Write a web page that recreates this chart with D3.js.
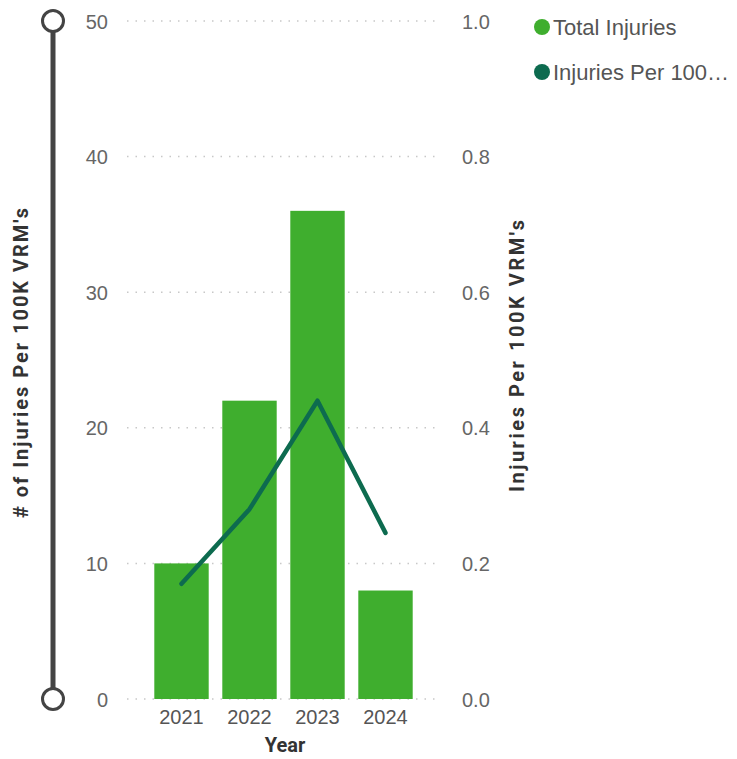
<!DOCTYPE html>
<html>
<head>
<meta charset="utf-8">
<script src="https://cdn.jsdelivr.net/npm/d3@7"></script>
<style>
  html, body { margin: 0; padding: 0; background: #fff; }
  svg { display: block; }
</style>
</head>
<body>
<svg id="chart" width="737" height="759"></svg>
<script>
// Yearly injury data
const years = ["2021", "2022", "2023", "2024"];
const totalInjuries = [10, 22, 36, 8];
const injuriesPer100k = [0.17, 0.28, 0.44, 0.245];
const leftTicks = [0, 10, 20, 30, 40, 50];
const rightTicks = [0, 0.2, 0.4, 0.6, 0.8, 1.0];
const legendLabels = ["Total Injuries", "Injuries Per 100\u2026"];

const barColor = "#3fae2e";
const lineColor = "#0d6b4f";
const tickColor = "#666666";
const tickFont = "Liberation Sans, Arial, sans-serif";
const titleFont = "Roboto, sans-serif";

const svg = d3.select("#chart");

const plotTop = 21, plotBottom = 699;
const gridLeft = 127, gridRight = 440;

const x = d3.scaleBand().domain(years).range([147.5, 419.5]).paddingInner(0.2).paddingOuter(0.1);
const yLeft = d3.scaleLinear().domain([0, 50]).range([plotBottom, plotTop]);
const yRight = d3.scaleLinear().domain([0, 1]).range([plotBottom, plotTop]);

// dotted gridlines
svg.append("g").selectAll("line").data(leftTicks).join("line")
  .attr("x1", gridLeft).attr("x2", gridRight)
  .attr("y1", d => yLeft(d)).attr("y2", d => yLeft(d))
  .attr("stroke", "#c8c8c8").attr("stroke-width", 1.5)
  .attr("stroke-dasharray", "1.5,7");

// left axis
const leftAxis = svg.append("g").attr("transform", `translate(108,0)`)
  .call(d3.axisLeft(yLeft).tickValues(leftTicks).tickSize(0).tickPadding(0));
leftAxis.select(".domain").remove();
leftAxis.selectAll("text").attr("fill", tickColor)
  .style("font-family", tickFont).style("font-size", "20px").attr("dy", "0.35em");

// right axis
const rightAxis = svg.append("g").attr("transform", `translate(462,0)`)
  .call(d3.axisRight(yRight).tickValues(rightTicks).tickSize(0).tickPadding(0).tickFormat(d3.format(".1f")));
rightAxis.select(".domain").remove();
rightAxis.selectAll("text").attr("fill", tickColor)
  .style("font-family", tickFont).style("font-size", "20px").attr("dy", "0.35em");

// bars
svg.append("g").selectAll("rect").data(years).join("rect")
  .attr("x", d => x(d)).attr("width", x.bandwidth())
  .attr("y", (d, i) => yLeft(totalInjuries[i]))
  .attr("height", (d, i) => yLeft(0) - yLeft(totalInjuries[i]))
  .attr("fill", barColor);

// line series on right scale
const line = d3.line()
  .x((d, i) => x(years[i]) + x.bandwidth() / 2)
  .y(d => yRight(d));
svg.append("path").datum(injuriesPer100k)
  .attr("d", line).attr("fill", "none")
  .attr("stroke", lineColor).attr("stroke-width", 4.5)
  .attr("stroke-linejoin", "round").attr("stroke-linecap", "round");

// x axis
const xAxis = svg.append("g").attr("transform", `translate(0,${plotBottom})`)
  .call(d3.axisBottom(x).tickSize(0).tickPadding(11));
xAxis.select(".domain").remove();
xAxis.selectAll("text").attr("fill", "#555")
  .style("font-family", tickFont).style("font-size", "20px").attr("dy", "0.71em");

svg.append("text").attr("x", 285).attr("y", 752)
  .attr("text-anchor", "middle").attr("fill", "#333")
  .style("font-family", titleFont).style("font-weight", "bold").style("font-size", "20px")
  .text("Year");

// axis titles
svg.append("text").attr("transform", "translate(28,363) rotate(-90)")
  .attr("text-anchor", "middle").attr("fill", "#333")
  .attr("textLength", 310).attr("lengthAdjust", "spacing")
  .style("font-family", titleFont).style("font-weight", "bold").style("font-size", "20px")
  .text("# of Injuries Per 100K VRM's");
svg.append("text").attr("transform", "translate(524,356) rotate(-90)")
  .attr("text-anchor", "middle").attr("fill", "#333")
  .attr("textLength", 272).attr("lengthAdjust", "spacing")
  .style("font-family", titleFont).style("font-weight", "bold").style("font-size", "20px")
  .text("Injuries Per 100K VRM's");

// range slider decoration on the left
const slider = svg.append("g");
slider.append("line").attr("x1", 53).attr("x2", 53)
  .attr("y1", plotTop + 10).attr("y2", plotBottom - 10)
  .attr("stroke", "#444").attr("stroke-width", 5);
slider.selectAll("circle").data([plotTop, plotBottom]).join("circle")
  .attr("cx", 53).attr("cy", d => d).attr("r", 10.5)
  .attr("fill", "#fff").attr("stroke", "#444").attr("stroke-width", 3);

// legend
const legend = svg.append("g").selectAll("g").data(legendLabels).join("g")
  .attr("transform", (d, i) => `translate(542,${27 + i * 45})`);
legend.append("circle").attr("r", 8)
  .attr("fill", (d, i) => i === 0 ? barColor : lineColor);
legend.append("text").attr("x", 11).attr("dy", "0.35em")
  .attr("fill", "#555").style("font-family", tickFont).style("font-size", "22px")
  .text(d => d);
</script>
</body>
</html>
